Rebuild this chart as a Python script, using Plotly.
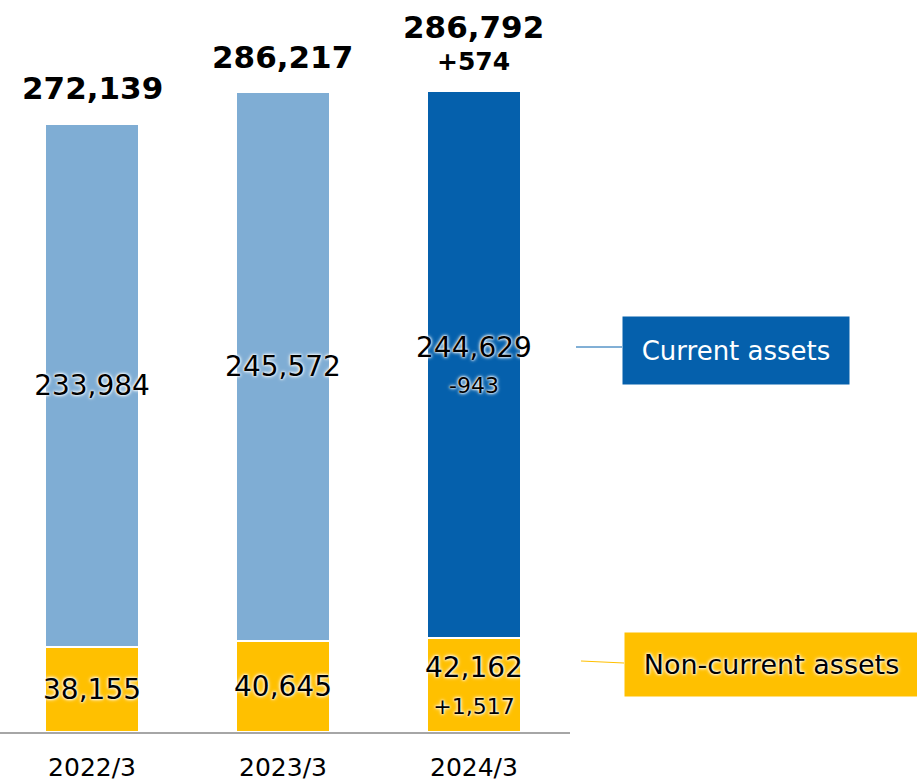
"""Stacked bar: current vs non-current assets."""

import plotly.graph_objects as go

# ---------------------------------------------------------------------------
# Data
# ---------------------------------------------------------------------------

periods = ["2022/3", "2023/3", "2024/3"]
non_current = [38155, 40645, 42162]
current = [233984, 245572, 244629]
totals = [272139, 286217, 286792]
non_current_change = [None, None, "+1,517"]
current_change = [None, None, "-943"]
total_change = [None, None, "+574"]

LIGHT_BLUE = "#7FADD4"
DARK_BLUE = "#0560AC"
YELLOW = "#FFC000"
FONT = "DejaVu Sans"
GLOW = "0px 0px 2px #fff, 0px 0px 3px #fff, 0px 0px 4px #fff"

# plot area in pixels: x 0..570, y 0..732 (baseline)
PLOT_W = 570
PLOT_H = 732


def px_x(x):
    return x / PLOT_W


def px_y(y):
    return (PLOT_H - y) / PLOT_H


def seg_text(value, change, small):
    txt = f"{value:,}"
    if change:
        txt += f"<br><span style='font-size:{small}px'>{change}</span>"
    return txt


fig = go.Figure()

fig.add_trace(go.Bar(
    x=periods,
    y=non_current,
    marker=dict(color=YELLOW, line=dict(color="white", width=1.5)),
    text=[seg_text(v, c, 22) for v, c in zip(non_current, non_current_change)],
    textposition="inside",
    insidetextanchor="middle",
    textangle=0,
    constraintext="none",
    textfont=dict(family=FONT, size=28, color="black", shadow=GLOW),
    width=0.49,
    hoverinfo="skip",
))

fig.add_trace(go.Bar(
    x=periods,
    y=current,
    marker=dict(color=[LIGHT_BLUE, LIGHT_BLUE, DARK_BLUE],
                line=dict(color="white", width=1.5)),
    text=[seg_text(v, c, 22) for v, c in zip(current, current_change)],
    textposition="inside",
    insidetextanchor="middle",
    textangle=0,
    constraintext="none",
    textfont=dict(family=FONT, size=28, color="black", shadow=GLOW),
    width=0.49,
    hoverinfo="skip",
))

# totals above bars
for p, t, c in zip(periods, totals, total_change):
    fig.add_annotation(
        x=p, y=t, text=f"<b>{t:,}</b>", showarrow=False,
        yanchor="bottom", yshift=44 if c else 16,
        font=dict(family=FONT, size=31, color="black"),
    )
    if c:
        fig.add_annotation(
            x=p, y=t, text=f"<b>{c}</b>", showarrow=False,
            yanchor="bottom", yshift=13,
            font=dict(family=FONT, size=25, color="black"),
        )

# legend boxes with connector lines
fig.add_shape(type="line", xref="paper", yref="paper",
              x0=px_x(576), x1=px_x(622), y0=px_y(347), y1=px_y(347),
              line=dict(color=DARK_BLUE, width=1))
fig.add_annotation(xref="paper", yref="paper", x=px_x(622), y=px_y(316),
                   xanchor="left", yanchor="top",
                   width=226, height=67, borderpad=0, bgcolor=DARK_BLUE,
                   text="Current assets", showarrow=False,
                   font=dict(family=FONT, size=26, color="white"))

fig.add_shape(type="line", xref="paper", yref="paper",
              x0=px_x(581), x1=px_x(624), y0=px_y(661), y1=px_y(663),
              line=dict(color=YELLOW, width=1))
fig.add_annotation(xref="paper", yref="paper", x=px_x(624), y=px_y(632),
                   xanchor="left", yanchor="top",
                   width=293, height=63, borderpad=0, bgcolor=YELLOW,
                   text="Non-current assets", showarrow=False,
                   font=dict(family=FONT, size=27, color="black", shadow=GLOW))

fig.update_layout(
    barmode="stack",
    width=917,
    height=784,
    margin=dict(l=0, r=917 - PLOT_W, t=0, b=784 - PLOT_H, autoexpand=False),
    paper_bgcolor="white",
    plot_bgcolor="white",
    showlegend=False,
    xaxis=dict(
        range=[-0.482, 2.503],
        showline=True, linecolor="#A6A6A6", linewidth=1.5,
        ticks="outside", ticklen=12, tickcolor="rgba(0,0,0,0)",
        tickfont=dict(family=FONT, size=25, color="black"),
        showgrid=False, zeroline=False,
    ),
    yaxis=dict(
        range=[0, PLOT_H / 0.002234],
        visible=False,
    ),
)

fig.write_html(
    "out.html",
    config={"displayModeBar": False},
    post_script="document.body.style.margin='0';",
)
